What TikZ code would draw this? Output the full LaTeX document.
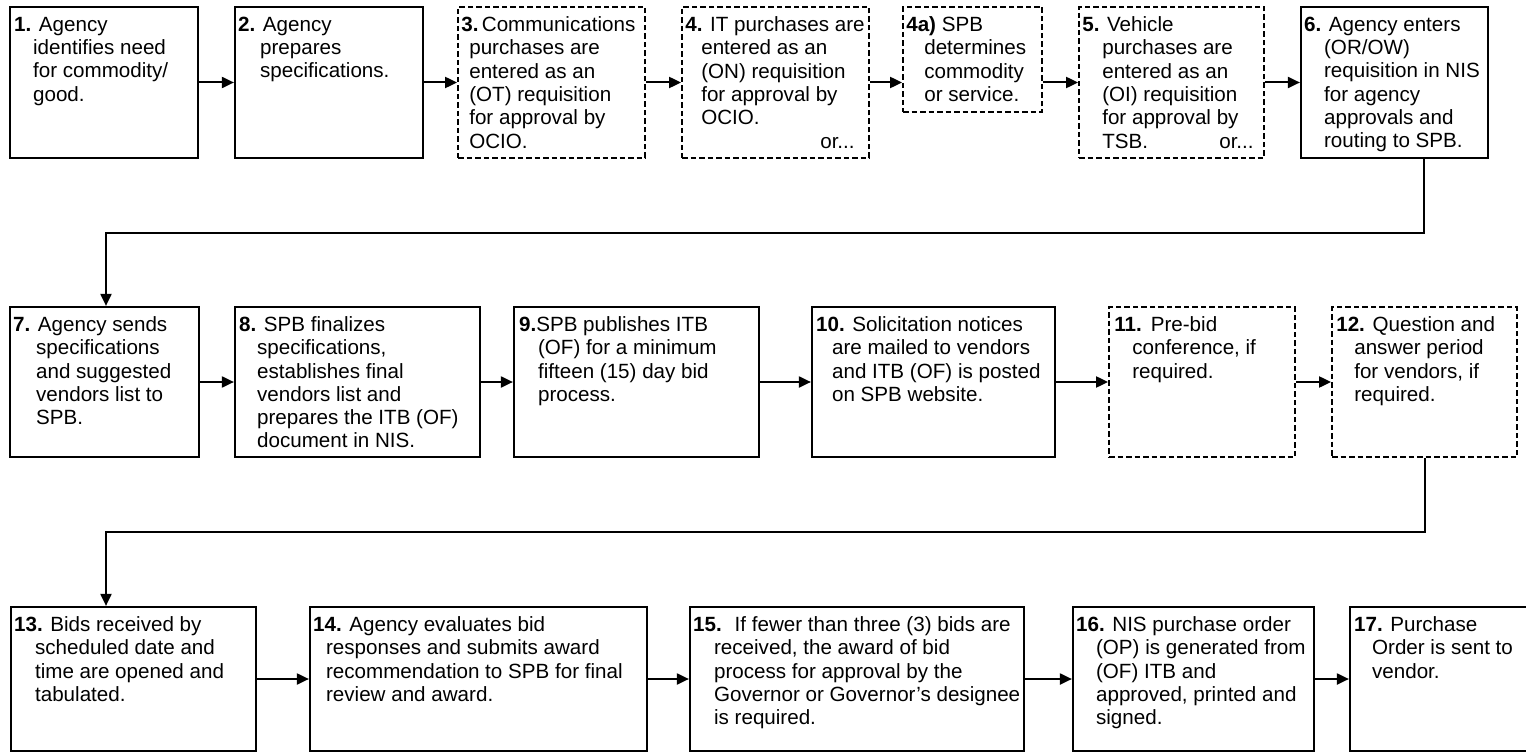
\documentclass[tikz,border=0pt]{standalone}
\usepackage{fontspec}
\setmainfont{Liberation Sans}
\usetikzlibrary{arrows.meta}
\newcommand\bt[3]{\begin{tabular}[t]{@{\hspace{#1}}l@{}}\multicolumn{1}{@{}l@{}}{#2}\\#3\end{tabular}}
\begin{document}
\begin{tikzpicture}[x=1pt,y=-1pt,
  sz/.style 2 args={minimum width=#1pt, minimum height=#2pt},
  boxs/.style={draw, line width=2.2pt, inner sep=0pt, rectangle},
  dbox/.style={draw, line width=1.8pt, dash pattern=on 5.5pt off 3pt, inner sep=0pt, rectangle},
  txt/.style={anchor=base west, inner sep=0pt, font=\fontsize{20.6}{23.3}\selectfont},
  arr/.style={line width=2pt, -{Triangle[length=12pt,width=11pt]}}]
\useasboundingbox (0,0) rectangle (1526,754);
\clip (0,0) rectangle (1526,754);
% row 1
\node[boxs, sz={188}{151}] (b1) at (104,82.5) {};
\node[boxs, sz={188}{151}] (b2) at (329,82.5) {};
\node[dbox, sz={187}{151}] (b3) at (551.5,82.5) {};
\node[dbox, sz={187}{151}] (b4) at (775.5,82.5) {};
\node[dbox, sz={139}{105}] (b4a) at (972.5,59.5) {};
\node[dbox, sz={185}{151}] (b5) at (1171.5,82.5) {};
\node[boxs, sz={187}{151}] (b6) at (1394.5,82.5) {};
% row 2
\node[boxs, sz={189}{150}] (b7) at (104.5,382) {};
\node[boxs, sz={245}{150}] (b8) at (357.5,382) {};
\node[boxs, sz={245}{150}] (b9) at (636.5,382) {};
\node[boxs, sz={243}{150}] (b10) at (933.5,382) {};
\node[dbox, sz={186}{150}] (b11) at (1202,382) {};
\node[dbox, sz={185}{150}] (b12) at (1424.5,382) {};
% row 3
\node[boxs, sz={245}{144}] (b13) at (133.5,679) {};
\node[boxs, sz={337}{144}] (b14) at (478.5,679) {};
\node[boxs, sz={334}{144}] (b15) at (857,679) {};
\node[boxs, sz={241}{144}] (b16) at (1193.5,679) {};
\node[boxs, sz={210}{144}] (b17) at (1455,679) {};
% texts
\node[txt] (t1) at ([shift={(5pt,-25.5pt)}]b1.north west) {\bt{19pt}{\textbf{1.} Agency}{identifies need\\for commodity/\\good.}};
\node[txt] (t2) at ([shift={(4pt,-25.5pt)}]b2.north west) {\bt{22pt}{\textbf{2.} Agency}{prepares\\specifications.}};
\node[txt] (t3) at ([shift={(4pt,-25.5pt)}]b3.north west) {\bt{8pt}{\textbf{3.}\,Communications}{purchases are\\entered as an\\(OT) requisition\\for approval by\\OCIO.}};
\node[txt] (t4) at ([shift={(4pt,-25.5pt)}]b4.north west) {\bt{16pt}{\textbf{4.} IT purchases are}{entered as an\\(ON) requisition\\for approval by\\OCIO.\\\hspace*{119pt}or...}};
\node[txt] (t4a) at ([shift={(4pt,-25.5pt)}]b4a.north west) {\bt{18pt}{\textbf{4a)} SPB}{determines\\commodity\\or service.}};
\node[txt] (t5) at ([shift={(4pt,-25.5pt)}]b5.north west) {\bt{20pt}{\textbf{5.} Vehicle}{purchases are\\entered as an\\(OI) requisition\\for approval by\\\makebox[117pt][l]{TSB.}or...}};
\node[txt] (t6) at ([shift={(4pt,-25.5pt)}]b6.north west) {\bt{20pt}{\textbf{6.} Agency enters}{(OR/OW)\\requisition in NIS\\for agency\\approvals and\\routing to SPB.}};
\node[txt] (t7) at ([shift={(4pt,-25.5pt)}]b7.north west) {\bt{23pt}{\textbf{7.} Agency sends}{specifications\\and suggested\\vendors list to\\SPB.}};
\node[txt] (t8) at ([shift={(5pt,-25.5pt)}]b8.north west) {\bt{18pt}{\textbf{8.} SPB finalizes}{specifications,\\establishes final\\vendors list and\\prepares the ITB (OF)\\document in NIS.}};
\node[txt] (t9) at ([shift={(6pt,-25.5pt)}]b9.north west) {\bt{19pt}{\textbf{9.}SPB publishes ITB}{(OF) for a minimum\\fifteen (15) day bid\\process.}};
\node[txt] (t10) at ([shift={(5pt,-25.5pt)}]b10.north west) {\bt{16pt}{\textbf{10.} Solicitation notices}{are mailed to vendors\\and ITB (OF) is posted\\on SPB website.}};
\node[txt] (t11) at ([shift={(6pt,-25.5pt)}]b11.north west) {\bt{18pt}{\textbf{11.}\hspace{9pt}Pre-bid}{conference, if\\required.}};
\node[txt] (t12) at ([shift={(5pt,-25.5pt)}]b12.north west) {\bt{18pt}{\textbf{12.} Question and}{answer period\\for vendors, if\\required.}};
\node[txt] (t13) at ([shift={(4pt,-25.5pt)}]b13.north west) {\bt{21pt}{\textbf{13.} Bids received by}{scheduled date and\\time are opened and\\tabulated.}};
\node[txt] (t14) at ([shift={(4pt,-25.5pt)}]b14.north west) {\bt{13pt}{\textbf{14.} Agency evaluates bid}{responses and submits award\\recommendation to SPB for final\\review and award.}};
\node[txt] (t15) at ([shift={(4pt,-25.5pt)}]b15.north west) {\bt{21pt}{\textbf{15.}\hspace{13pt}If fewer than three (3) bids are}{received, the award of bid\\process for approval by the\\Governor or Governor's designee\\is required.}};
\node[txt] (t16) at ([shift={(4pt,-25.5pt)}]b16.north west) {\bt{20pt}{\textbf{16.} NIS purchase order}{(OP) is generated from\\(OF) ITB and\\approved, printed and\\signed.}};
\node[txt] (t17) at ([shift={(5pt,-25.5pt)}]b17.north west) {\bt{18pt}{\textbf{17.} Purchase}{Order is sent to\\vendor.}};
% row arrows
\draw[arr] (b1) -- (b2);
\draw[arr] (b2) -- (b3);
\draw[arr] (b3) -- (b4);
\draw[arr] (b4.east) -- (b4.east -| b4a.west);
\draw[arr] (b5.west -| b4a.east) -- (b5.west);
\draw[arr] (b5) -- (b6);
\draw[arr] (b7) -- (b8);
\draw[arr] (b8) -- (b9);
\draw[arr] (b9) -- (b10);
\draw[arr] (b10) -- (b11);
\draw[arr] (b11) -- (b12);
\draw[arr] (b13) -- (b14);
\draw[arr] (b14) -- (b15);
\draw[arr] (b15) -- (b16);
\draw[arr] (b16) -- (b17);
% row-to-row connectors
\coordinate (j1) at (1424,233);
\coordinate (j2) at (106,233);
\coordinate (j3) at (106,532);
\draw[arr] (b6.south -| j1) |- (j2) -- (b7.north -| j2);
\draw[arr] (b12.south) |- (j3) -- (b13.north -| j3);
\end{tikzpicture}
\end{document}
